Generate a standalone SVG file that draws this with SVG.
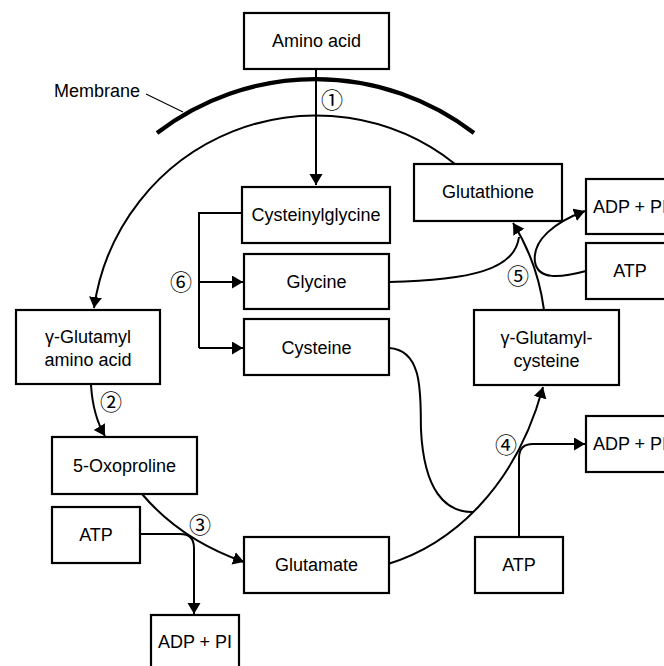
<svg xmlns="http://www.w3.org/2000/svg" width="664" height="666" viewBox="0 0 664 666">
  <style>
    .box { fill: #fff; stroke: #000; stroke-width: 2.2; }
    .lbl { font-family: "Liberation Sans", Arial, sans-serif; font-size: 18px; fill: #000; text-anchor: middle; }
    .num { font-family: "Noto Sans CJK JP", "DejaVu Sans", sans-serif; font-size: 22px; fill: #000; text-anchor: middle; }
    .edge { fill: none; stroke: #000; stroke-width: 2; }
    .arr { marker-end: url(#ah); }
  </style>
  <defs>
    <marker id="ah" markerWidth="12" markerHeight="14" refX="11" refY="6.5" orient="auto" markerUnits="userSpaceOnUse">
      <path d="M0,0 L11,6.5 L0,13 z" fill="#000"/>
    </marker>
  </defs>

  <!-- cell membrane -->
  <g id="membrane">
    <path d="M157,133 A260,260 0 0 1 474,133" fill="none" stroke="#000" stroke-width="4.2"/>
    <line x1="146" y1="94" x2="183" y2="112" stroke="#000" stroke-width="1.1"/>
    <text class="lbl" x="97" y="97">Membrane</text>
  </g>

  <!-- connectors -->
  <g id="connectors">
    <!-- glutathione export loop to gamma-glutamyl amino acid -->
    <path class="edge arr" d="M455,164 A224,224 0 0 0 94,308" stroke-width="1.6"/>
    <!-- 1: amino acid uptake -->
    <path class="edge arr" d="M316,69 V185"/>
    <!-- 6: cysteinylglycine split -->
    <path class="edge" d="M242,213 H199 V348"/>
    <path class="edge arr" d="M199,282 H243"/>
    <path class="edge arr" d="M199,348 H243"/>
    <!-- 2 -->
    <path class="edge arr" d="M91,385 Q93,416 105,436"/>
    <!-- 3 -->
    <path class="edge arr" d="M142,494 Q181,540 244,562"/>
    <path class="edge arr" d="M140,534 H180 Q194,534 194,548 V614"/>
    <!-- 4 -->
    <path class="edge arr" d="M388,564 C450,545 515,490 543,387"/>
    <path class="edge" d="M389,348 C425,350 420,400 421,430 C424,490 445,513 474,512"/>
    <path class="edge arr" d="M519,537 V458 Q519,444 533,444 H585"/>
    <!-- 5 -->
    <path class="edge arr" d="M544,310 C540,280 530,250 513,223"/>
    <path class="edge" d="M389,282 C470,280 515,270 519,237"/>
    <path class="edge arr" d="M586,271 C560,278 538,280 535,262 C532,240 555,222 585,211"/>
  </g>

  <!-- step numbers -->
  <g id="steps">
    <text class="num" x="332" y="108">①</text>
    <text class="num" x="111" y="410">②</text>
    <text class="num" x="200" y="533">③</text>
    <text class="num" x="506" y="453">④</text>
    <text class="num" x="518" y="284">⑤</text>
    <text class="num" x="181" y="290">⑥</text>
  </g>

  <g id="amino-acid">
    <rect class="box" x="244" y="13" width="145" height="56"/>
    <text class="lbl" x="316.5" y="47">Amino acid</text>
  </g>
  <g id="cysteinylglycine">
    <rect class="box" x="242" y="187" width="148" height="56"/>
    <text class="lbl" x="316" y="221">Cysteinylglycine</text>
  </g>
  <g id="glycine">
    <rect class="box" x="244" y="254" width="145" height="55"/>
    <text class="lbl" x="316.5" y="288">Glycine</text>
  </g>
  <g id="cysteine">
    <rect class="box" x="244" y="319" width="145" height="56"/>
    <text class="lbl" x="316.5" y="354">Cysteine</text>
  </g>
  <g id="glutathione">
    <rect class="box" x="414" y="164" width="148" height="57"/>
    <text class="lbl" x="488" y="198">Glutathione</text>
  </g>
  <g id="adp-pi-top">
    <rect class="box" x="586" y="179" width="88" height="55"/>
    <text class="lbl" x="630" y="213">ADP + PI</text>
  </g>
  <g id="atp-top">
    <rect class="box" x="586" y="243" width="88" height="56"/>
    <text class="lbl" x="630" y="277">ATP</text>
  </g>
  <g id="gamma-glutamylcysteine">
    <rect class="box" x="474" y="310" width="145" height="75"/>
    <text class="lbl" x="546.5" y="344">γ-Glutamyl-</text>
    <text class="lbl" x="546.5" y="367">cysteine</text>
  </g>
  <g id="gamma-glutamyl-amino-acid">
    <rect class="box" x="16" y="310" width="144" height="74"/>
    <text class="lbl" x="88" y="343">γ-Glutamyl</text>
    <text class="lbl" x="88" y="366">amino acid</text>
  </g>
  <g id="oxoproline">
    <rect class="box" x="52" y="437" width="145" height="57"/>
    <text class="lbl" x="124.5" y="472">5-Oxoproline</text>
  </g>
  <g id="atp-left">
    <rect class="box" x="52" y="507" width="88" height="56"/>
    <text class="lbl" x="96" y="541">ATP</text>
  </g>
  <g id="adp-pi-bottom">
    <rect class="box" x="151" y="615" width="88" height="56"/>
    <text class="lbl" x="195" y="648">ADP + PI</text>
  </g>
  <g id="glutamate">
    <rect class="box" x="244" y="537" width="145" height="56"/>
    <text class="lbl" x="316.5" y="571">Glutamate</text>
  </g>
  <g id="atp-bottom">
    <rect class="box" x="475" y="537" width="88" height="56"/>
    <text class="lbl" x="519" y="571">ATP</text>
  </g>
  <g id="adp-pi-middle">
    <rect class="box" x="586" y="416" width="88" height="56"/>
    <text class="lbl" x="630" y="450">ADP + PI</text>
  </g>
</svg>
